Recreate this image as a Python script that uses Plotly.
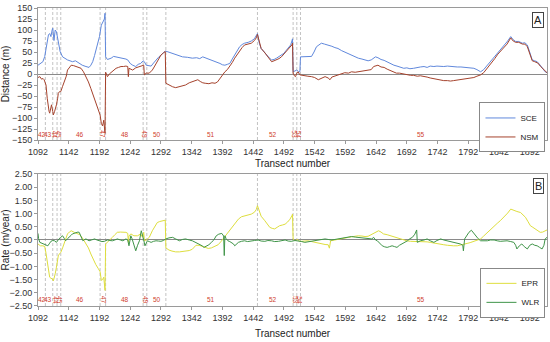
import plotly.graph_objects as go

# ---------------- data ----------------
sce_x = [1092,1097,1100,1103,1105,1107,1109,1111,1113,1115,1116,1118,1120,1122,1124,1126,1128,1132,1136,1140,1144,1148,1153,1159,1164,1170,1175,1178,1181,1184,1186,1189,1192,1195,1198,1200,1201,1202,1205,1211,1215,1219,1225,1230,1235,1238,1242,1246,1251,1255,1259,1263,1265,1268,1272,1276,1280,1284,1288,1292,1296,1299,1302,1306,1311,1317,1322,1327,1335,1343,1350,1355,1360,1364,1370,1376,1382,1388,1392,1396,1400,1404,1408,1412,1416,1420,1424,1428,1434,1439,1444,1447,1449,1452,1455,1460,1464,1468,1472,1476,1480,1484,1488,1492,1496,1500,1503,1505,1506,1507,1510,1513,1516,1518,1519,1525,1531,1537,1541,1545,1549,1553,1558,1564,1570,1575,1580,1586,1591,1597,1602,1608,1613,1619,1624,1629,1634,1638,1641,1645,1650,1655,1660,1666,1671,1676,1681,1687,1692,1697,1703,1708,1714,1720,1725,1730,1736,1741,1747,1752,1758,1763,1768,1774,1780,1785,1790,1795,1801,1806,1812,1817,1823,1828,1834,1839,1844,1848,1852,1856,1861,1865,1869,1874,1880,1884,1888,1892,1896,1900,1904,1909,1913,1917,1920]
sce_y = [20,26,28,40,58,80,89,92,85,100,104,76,100,96,81,65,51,39,35,32,30,28,30,24,20,17,15,20,28,42,54,70,85,111,119,125,138,39,33,36,40,39,36,36,34,32,24,20,17,22,24,30,28,20,19,18,25,32,38,43,48,52,51,49,47,45,42,39,38,36,37,35,39,37,33,30,27,24,21,20,22,24,34,43,52,62,67,70,72,75,80,86,92,70,58,50,43,37,32,33,36,40,43,47,54,60,66,75,80,5,8,9,5,5,39,39,40,40,50,62,66,70,68,66,63,60,58,53,50,45,42,38,36,34,32,30,32,37,39,37,33,31,27,24,20,18,15,13,14,12,13,15,16,17,15,18,17,18,17,17,18,17,17,16,16,15,14,14,13,10,5,10,20,28,36,45,54,60,66,75,85,78,74,74,70,71,66,50,32,30,28,20,12,5,3]

nsm_x = [1092,1095,1098,1100,1102,1104,1105,1107,1108,1110,1111,1113,1114,1116,1117,1119,1120,1122,1124,1125,1127,1129,1132,1135,1138,1140,1143,1146,1150,1154,1158,1162,1166,1170,1174,1178,1182,1186,1189,1193,1195,1197,1199,1200,1201,1202,1205,1208,1211,1215,1219,1223,1227,1231,1235,1238,1239,1240,1243,1246,1251,1255,1259,1263,1264,1265,1268,1273,1278,1281,1284,1288,1292,1296,1299,1300,1305,1311,1316,1322,1327,1332,1338,1343,1348,1352,1356,1360,1364,1370,1375,1380,1384,1388,1392,1396,1400,1404,1408,1412,1416,1420,1424,1428,1434,1439,1444,1447,1449,1452,1455,1460,1464,1468,1472,1476,1480,1484,1488,1492,1496,1500,1503,1505,1506,1507,1509,1511,1513,1515,1518,1521,1525,1531,1537,1542,1548,1553,1559,1564,1567,1570,1575,1580,1586,1591,1597,1602,1608,1613,1619,1624,1629,1634,1638,1641,1645,1650,1655,1660,1665,1670,1675,1680,1687,1692,1698,1703,1709,1714,1720,1725,1730,1736,1741,1747,1752,1758,1763,1768,1774,1780,1785,1790,1795,1801,1806,1812,1817,1820,1825,1830,1835,1840,1845,1850,1855,1861,1865,1869,1874,1880,1884,1888,1892,1896,1900,1905,1909,1913,1917,1920]
nsm_y = [-8,-6,-12,-10,-13,-20,-25,-55,-70,-85,-89,-80,-70,-85,-93,-85,-81,-70,-55,-44,-40,-40,-28,-17,-5,9,15,20,19,17,15,13,5,-6,-18,-33,-48,-63,-75,-93,-112,-118,-105,-120,-135,4,-6,0,4,9,13,15,17,17,18,17,-6,13,10,9,14,16,18,20,20,-2,2,2,9,16,24,34,43,48,51,-21,-25,-29,-31,-29,-28,-25,-20,-17,-15,-13,-17,-20,-21,-22,-20,-21,-18,-10,-2,5,10,17,26,36,45,54,60,66,68,70,76,82,90,70,58,50,43,35,28,30,32,35,39,45,51,57,62,66,70,2,-4,-6,2,5,-2,-3,-4,-5,-6,-8,-13,-10,-6,-9,-13,-7,-5,-2,0,3,2,5,4,5,7,8,9,10,17,18,20,16,15,11,8,4,2,2,0,-2,-3,-3,-5,-4,-5,-7,-9,-11,-12,-14,-15,-15,-16,-15,-14,-13,-12,-10,-9,-8,-5,-2,3,8,16,25,35,45,52,60,68,82,75,72,72,68,68,62,48,30,28,25,18,12,5,3]

epr_x = [1092,1096,1100,1103,1105,1107,1109,1111,1113,1115,1117,1119,1120,1122,1124,1125,1127,1129,1132,1135,1138,1140,1143,1146,1151,1156,1160,1165,1170,1174,1178,1182,1186,1190,1193,1195,1197,1199,1200,1201,1202,1205,1209,1213,1217,1221,1226,1230,1235,1238,1239,1240,1243,1248,1254,1259,1262,1264,1265,1268,1273,1278,1282,1286,1290,1295,1299,1300,1305,1310,1316,1322,1327,1333,1338,1343,1349,1354,1360,1364,1369,1374,1380,1385,1390,1393,1397,1401,1405,1410,1414,1418,1423,1428,1434,1439,1444,1447,1449,1452,1455,1461,1465,1469,1473,1477,1481,1485,1490,1494,1498,1502,1505,1506,1507,1510,1514,1518,1521,1526,1531,1537,1542,1548,1553,1559,1564,1566,1568,1574,1580,1586,1591,1597,1602,1608,1613,1619,1624,1629,1634,1638,1641,1646,1650,1654,1660,1665,1670,1676,1681,1687,1692,1698,1703,1709,1714,1720,1725,1730,1736,1741,1747,1752,1758,1763,1768,1774,1779,1784,1790,1795,1801,1806,1812,1817,1823,1828,1834,1839,1844,1848,1852,1856,1861,1866,1871,1877,1881,1885,1889,1893,1897,1901,1905,1909,1913,1917,1920]
epr_y = [-0.15,-0.22,-0.22,-0.25,-0.5,-0.8,-1.16,-1.41,-1.45,-1.47,-1.55,-1.4,-1.28,-1.03,-0.75,-0.6,-0.52,-0.47,-0.3,-0.09,0.1,0.23,0.3,0.35,0.29,0.23,0.2,0.05,-0.15,-0.3,-0.53,-0.75,-0.93,-1.08,-1.2,-1.53,-1.5,-1.41,-1.6,-1.91,-0.15,-0.09,0.0,0.1,0.2,0.29,0.3,0.29,0.29,0.25,-0.09,0.15,0.23,0.16,0.16,0.23,0.1,0.29,-0.03,0.0,0.1,0.35,0.5,0.66,0.7,0.73,0.75,-0.3,-0.38,-0.42,-0.45,-0.45,-0.44,-0.42,-0.4,-0.35,-0.2,-0.2,-0.25,-0.3,-0.32,-0.3,-0.25,-0.18,-0.05,0.04,0.15,0.29,0.4,0.54,0.67,0.79,0.88,0.92,0.95,0.98,1.05,1.15,1.3,1.05,0.9,0.73,0.6,0.48,0.44,0.42,0.48,0.54,0.57,0.6,0.68,0.79,0.92,0.98,0.04,-0.03,0.02,-0.05,-0.05,-0.03,-0.03,-0.06,-0.09,-0.12,-0.15,-0.17,-0.18,-0.31,-0.03,0.0,0.04,0.06,0.08,0.1,0.12,0.14,0.16,0.15,0.13,0.14,0.2,0.25,0.29,0.35,0.3,0.23,0.2,0.16,0.13,0.1,0.05,0.0,-0.03,-0.05,-0.05,-0.05,-0.06,-0.05,-0.07,-0.09,-0.12,-0.15,-0.16,-0.18,-0.2,-0.22,-0.22,-0.22,-0.2,-0.18,-0.13,-0.1,-0.05,0.0,0.04,0.15,0.29,0.4,0.54,0.63,0.73,0.82,0.92,1.02,1.17,1.11,1.08,1.04,0.95,0.86,0.7,0.54,0.48,0.42,0.35,0.29,0.3,0.35,0.38]

wlr_x = [1092,1093,1095,1098,1102,1105,1108,1111,1113,1116,1119,1122,1124,1126,1129,1132,1135,1137,1140,1143,1146,1148,1151,1154,1157,1159,1162,1165,1168,1170,1173,1175,1179,1184,1188,1192,1196,1200,1202,1205,1209,1213,1217,1221,1226,1230,1235,1238,1240,1243,1245,1247,1249,1251,1254,1257,1260,1262,1263,1266,1268,1270,1273,1276,1280,1284,1288,1292,1296,1300,1305,1311,1316,1322,1327,1332,1338,1343,1349,1354,1359,1362,1366,1370,1374,1378,1382,1386,1391,1394,1395,1396,1398,1401,1404,1407,1410,1412,1415,1418,1423,1428,1433,1439,1444,1450,1455,1461,1466,1472,1477,1483,1488,1494,1499,1504,1510,1515,1521,1526,1531,1537,1542,1548,1553,1559,1564,1569,1575,1580,1586,1591,1597,1602,1608,1613,1619,1624,1629,1635,1638,1641,1644,1648,1652,1656,1660,1664,1668,1672,1676,1680,1684,1688,1693,1697,1701,1705,1708,1709,1714,1720,1725,1730,1736,1741,1747,1752,1758,1763,1768,1774,1779,1783,1784,1786,1790,1793,1797,1800,1804,1808,1812,1818,1823,1828,1834,1839,1844,1850,1855,1861,1866,1869,1871,1875,1879,1883,1888,1892,1896,1900,1904,1908,1912,1915,1917,1920]
wlr_y = [0.25,0.05,-0.09,-0.12,-0.15,-0.18,-0.22,-0.12,-0.05,-0.02,-0.03,-0.09,-0.02,0.04,0.1,0.16,0.05,-0.03,0.05,0.1,0.18,0.23,0.26,0.29,0.3,0.29,0.15,-0.03,0.02,0.04,0.0,-0.03,0.0,0.04,0.0,-0.03,-0.06,-0.05,-0.03,0.0,-0.02,-0.03,0.0,0.04,0.0,-0.03,0.04,0.0,-0.22,0.16,0.05,-0.09,-0.25,-0.41,-0.2,-0.03,0.35,0.2,0.1,-0.22,-0.1,-0.03,-0.06,-0.09,-0.05,-0.03,-0.04,-0.05,-0.02,0.04,0.08,0.1,0.04,-0.03,0.02,0.04,0.0,-0.03,-0.1,-0.15,-0.22,-0.28,-0.24,-0.18,-0.09,0.0,0.16,0.22,0.25,0.15,-0.59,0.16,0.05,-0.03,-0.06,-0.09,-0.15,-0.22,-0.15,-0.09,-0.05,-0.03,-0.06,-0.05,-0.02,0.0,-0.04,-0.05,-0.02,-0.03,-0.06,-0.05,-0.02,0.0,-0.04,-0.05,-0.02,-0.03,-0.06,-0.09,-0.07,-0.05,-0.04,-0.03,0.0,0.04,0.02,0.0,0.02,0.04,0.07,0.1,0.12,0.13,0.11,0.1,0.09,0.07,0.05,0.04,0.1,0.0,-0.03,-0.12,-0.22,-0.26,-0.28,-0.25,-0.22,-0.25,-0.28,-0.2,-0.15,-0.08,-0.03,0.05,0.1,0.22,0.38,-0.09,-0.03,0.0,0.04,-0.03,-0.09,-0.02,0.04,0.0,-0.03,-0.06,-0.09,-0.12,-0.15,-0.2,-0.41,0.04,0.2,0.29,0.37,0.28,0.16,0.05,-0.03,-0.03,-0.03,0.0,0.0,-0.03,-0.05,-0.04,-0.03,-0.06,-0.09,-0.2,-0.34,-0.22,-0.15,-0.25,-0.34,-0.2,-0.15,-0.2,-0.22,-0.28,-0.34,-0.2,0.04,0.1]

boundaries = [1104, 1116, 1123, 1129, 1193, 1202, 1263, 1269, 1300, 1449, 1507, 1513, 1519]
section_names = ["42", "43", "44", "45", "46", "47", "48", "49", "50", "51", "52", "53", "54", "55"]
section_pos = [1098, 1109, 1119, 1126, 1160, 1198, 1233, 1266, 1285, 1373, 1474, 1510, 1516, 1715]
rotated_sections = ["44", "45", "47", "49", "53", "54"]

x_ticks = [1092, 1142, 1192, 1242, 1292, 1342, 1392, 1442, 1492, 1542, 1592, 1642, 1692, 1742, 1792, 1842, 1892]
dist_ticks = [-150, -125, -100, -75, -50, -25, 0, 25, 50, 75, 100, 125, 150]
rate_ticks = [-2.5, -2.0, -1.5, -1.0, -0.5, 0.0, 0.5, 1.0, 1.5, 2.0, 2.5]

# ---------------- figure ----------------
FONT = "Liberation Sans, Arial, sans-serif"
C_SCE, C_NSM, C_EPR, C_WLR = "#6088dc", "#a5422c", "#dede3e", "#3f9448"

fig = go.Figure()
fig.add_trace(go.Scatter(x=sce_x, y=sce_y, mode="lines", name="SCE",
                         line=dict(color=C_SCE, width=1), xaxis="x", yaxis="y", legend="legend"))
fig.add_trace(go.Scatter(x=nsm_x, y=nsm_y, mode="lines", name="NSM",
                         line=dict(color=C_NSM, width=1), xaxis="x", yaxis="y", legend="legend"))
fig.add_trace(go.Scatter(x=epr_x, y=epr_y, mode="lines", name="EPR",
                         line=dict(color=C_EPR, width=1), xaxis="x2", yaxis="y2", legend="legend2"))
fig.add_trace(go.Scatter(x=wlr_x, y=wlr_y, mode="lines", name="WLR",
                         line=dict(color=C_WLR, width=1), xaxis="x2", yaxis="y2", legend="legend2"))

shapes = []
for b in boundaries:
    for xr, yr in (("x", "y domain"), ("x2", "y2 domain")):
        shapes.append(dict(type="line", xref=xr, yref=yr, x0=b, x1=b, y0=0, y1=1,
                           line=dict(color="#b4b4b4", width=0.8, dash="3px,2px"), layer="below"))

annotations = []
for name, pos in zip(section_names, section_pos):
    rot = 90 if name in rotated_sections else 0
    for xr, yr, yv in (("x", "y", -137), ("x2", "y2", -2.27)):
        annotations.append(dict(x=pos, y=yv, xref=xr, yref=yr, text=name, showarrow=False,
                                textangle=rot, font=dict(size=6.5, color="#d0402c", family=FONT)))
for lab, yv in (("A", 0.987), ("B", 0.43)):
    annotations.append(dict(x=0.995, y=yv, xref="paper", yref="paper", text=lab, showarrow=False,
                            xanchor="right", yanchor="top", bordercolor="#444", borderwidth=1,
                            borderpad=1, bgcolor="white", font=dict(size=11, color="#222", family=FONT)))

axis_common = dict(showgrid=False, showline=True, mirror=True, linecolor="#9a9a9a", linewidth=1,
                   ticks="outside", ticklen=3, tickcolor="#9a9a9a", automargin=False,
                   tickfont=dict(size=9, color="#333", family=FONT))

fig.update_layout(
    width=550, height=342,
    margin=dict(l=38, r=3, t=8, b=36),
    paper_bgcolor="white", plot_bgcolor="white",
    font=dict(family=FONT, size=9, color="#333"),
    xaxis=dict(domain=[0, 1], anchor="y", range=[1092, 1920], tickvals=x_ticks,
               title=dict(text="Transect number", standoff=4, font=dict(size=10, color="#222")),
               zeroline=False, **axis_common),
    yaxis=dict(domain=[0.557, 1], anchor="x", range=[-150, 150], tickvals=dist_ticks,
               title=dict(text="Distance (m)", standoff=2, font=dict(size=10, color="#222")),
               zeroline=True, zerolinecolor="#8a8a8a", zerolinewidth=1, **axis_common),
    xaxis2=dict(domain=[0, 1], anchor="y2", range=[1092, 1920], tickvals=x_ticks,
                title=dict(text="Transect number", standoff=8, font=dict(size=10, color="#222")),
                zeroline=False, **axis_common),
    yaxis2=dict(domain=[0, 0.443], anchor="x2", range=[-2.5, 2.5], tickvals=rate_ticks,
                tickformat=".2f",
                title=dict(text="Rate (m/year)", standoff=2, font=dict(size=10, color="#222")),
                zeroline=True, zerolinecolor="#8a8a8a", zerolinewidth=1, **axis_common),
    legend=dict(x=0.997, y=0.683, xanchor="right", yanchor="top", bgcolor="white",
                bordercolor="#888", borderwidth=1, font=dict(size=8, color="#222"),
                itemwidth=30, tracegroupgap=0),
    legend2=dict(x=0.997, y=0.128, xanchor="right", yanchor="top", bgcolor="white",
                 bordercolor="#888", borderwidth=1, font=dict(size=8, color="#222"),
                 itemwidth=30, tracegroupgap=0),
    shapes=shapes, annotations=annotations, showlegend=True,
)

fig.write_html("out.html", post_script="document.body.style.margin='0';",
               config={"displayModeBar": False})
